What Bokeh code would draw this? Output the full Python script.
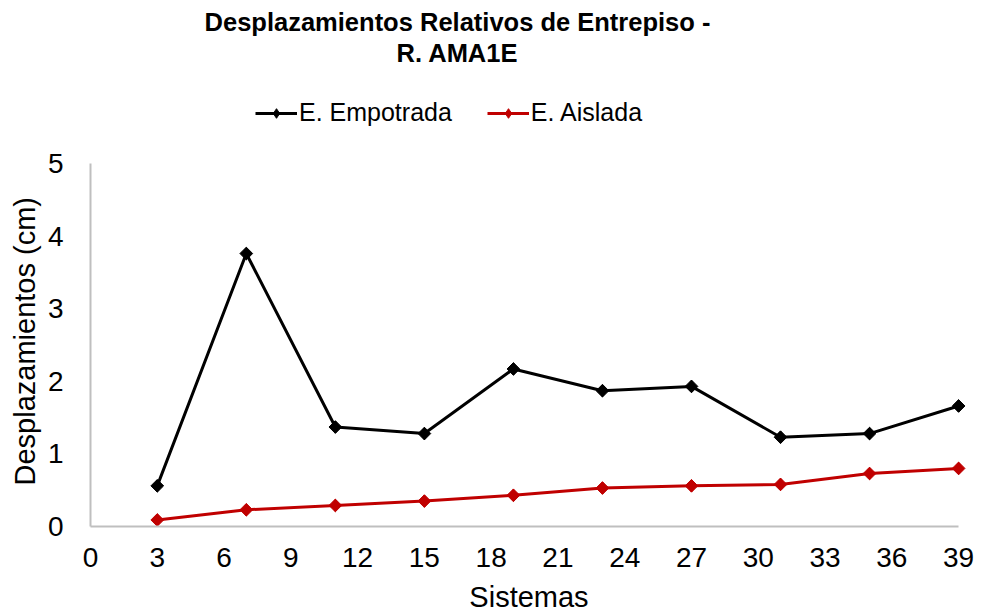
import math
from bokeh.plotting import figure
from bokeh.models import Range1d, FixedTicker, Legend, LegendItem, Label, Title
from bokeh.embed import file_html
from bokeh.resources import INLINE

sistemas = [3, 7, 11, 15, 19, 23, 27, 31, 35, 39]
empotrada = [0.56, 3.76, 1.37, 1.28, 2.17, 1.87, 1.93, 1.23, 1.28, 1.66]
aislada = [0.09, 0.23, 0.29, 0.35, 0.43, 0.53, 0.56, 0.58, 0.73, 0.80]
x_ticks = list(range(0, 40, 3))
y_ticks = [0, 1, 2, 3, 4, 5]
title_lines = ["Desplazamientos Relativos de Entrepiso -", "R. AMA1E"]
x_label = "Sistemas"
y_label = "Desplazamientos (cm)"

FONT = "Liberation Sans"

# frame runs to the canvas top so the title and legend (drawn inside it) are not clipped;
# axis bounds keep the axis lines to the data extent
p = figure(width=981, height=616, output_backend="svg", toolbar_location=None,
           x_range=Range1d(0, 39.4), y_range=Range1d(0, 5 * 526 / 363),
           min_border_left=90, min_border_right=14, min_border_top=0, min_border_bottom=90)
p.outline_line_color = None
p.xgrid.grid_line_color = None
p.ygrid.grid_line_color = None

for ax in (p.xaxis[0], p.yaxis[0]):
    ax.axis_line_color = "#bfbfbf"
    ax.axis_line_width = 2
    ax.major_tick_line_color = None
    ax.minor_tick_line_color = None
    ax.major_label_text_font = FONT
    ax.major_label_text_font_size = "28px"
    ax.major_label_text_color = "#000000"
    ax.axis_label_text_font = FONT
    ax.axis_label_text_font_size = "29px"
    ax.axis_label_text_font_style = "normal"
    ax.axis_label_text_color = "#000000"

p.xaxis.ticker = FixedTicker(ticks=x_ticks)
p.yaxis.ticker = FixedTicker(ticks=y_ticks)
p.xaxis.bounds = (0, 39)
p.yaxis.bounds = (0, 5)
p.xaxis.axis_label = x_label
p.xaxis.major_label_standoff = 15
p.xaxis.axis_label_standoff = 11
p.yaxis.major_label_standoff = 21

# y-axis title as a side title so that it sits beside the 0-5 span, not the whole frame
p.add_layout(Title(text=y_label, align="left", offset=41, standoff=7,
                   text_font=FONT, text_font_size="29px", text_font_style="normal",
                   text_color="#000000"), "left")

series = [(empotrada, "#000000", "E. Empotrada"), (aislada, "#c00000", "E. Aislada")]
items = []
for vals, col, name in series:
    ln = p.line(sistemas, vals, line_color=col, line_width=3)
    # diamond used for the legend swatch; hidden beneath the rotated squares on the plot
    dm = p.scatter(sistemas, vals, marker="diamond", size=12, fill_color=col, line_color=col)
    p.scatter(sistemas, vals, marker="square", size=9, angle=math.pi / 4,
              fill_color=col, line_color=col)
    items.append(LegendItem(label=name, renderers=[ln, dm]))

legend = Legend(items=items, orientation="horizontal", location=(165, 399),
                glyph_width=42, glyph_height=24, label_height=24,
                label_text_font=FONT, label_text_font_size="25px", label_text_color="#000000",
                label_standoff=2, spacing=35, padding=0, margin=0,
                border_line_color=None, background_fill_alpha=0)
p.add_layout(legend, "center")

for txt, yy in zip(title_lines, [505, 474]):
    p.add_layout(Label(x=367, y=yy, x_units="screen", y_units="screen", text=txt,
                       text_align="center", text_baseline="alphabetic",
                       text_font=FONT, text_font_size="25.5px", text_font_style="bold",
                       text_color="#000000"))

open("out.html", "w").write(file_html(p, INLINE))
